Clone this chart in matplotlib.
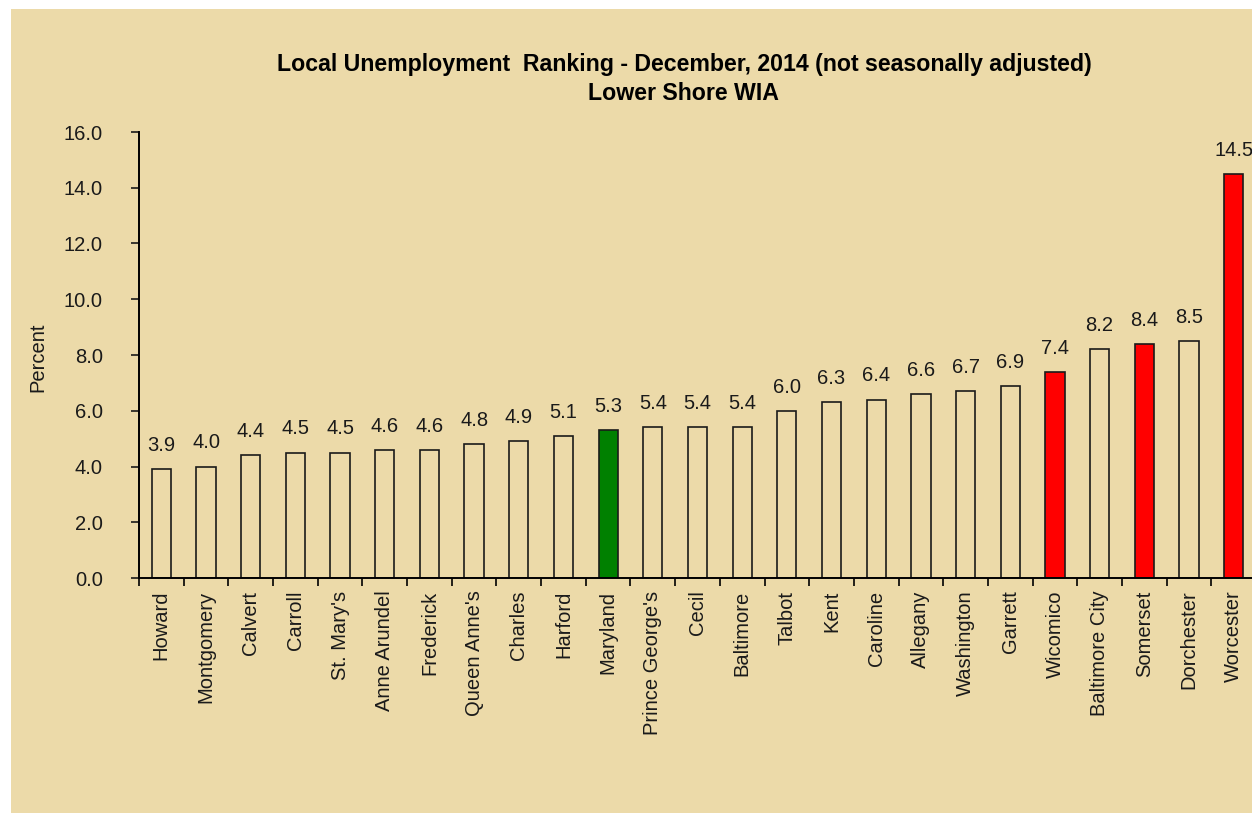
import matplotlib.pyplot as plt

counties = ['Howard', 'Montgomery', 'Calvert', 'Carroll', "St. Mary's",
            'Anne Arundel', 'Frederick', "Queen Anne's", 'Charles', 'Harford',
            'Maryland', "Prince George's", 'Cecil', 'Baltimore', 'Talbot',
            'Kent', 'Caroline', 'Allegany', 'Washington', 'Garrett',
            'Wicomico', 'Baltimore City', 'Somerset', 'Dorchester', 'Worcester']
rates = [3.9, 4.0, 4.4, 4.5, 4.5, 4.6, 4.6, 4.8, 4.9, 5.1,
         5.3, 5.4, 5.4, 5.4, 6.0, 6.3, 6.4, 6.6, 6.7, 6.9,
         7.4, 8.2, 8.4, 8.5, 14.5]
lower_shore = ['Wicomico', 'Somerset', 'Worcester']
state = 'Maryland'
yticks = [0, 2, 4, 6, 8, 10, 12, 14, 16]

plt.rcParams['font.family'] = ['Liberation Sans', 'DejaVu Sans']

fig = plt.figure(figsize=(12.52, 8.13), dpi=100)
fig.patch.set_facecolor('white')

# parchment-like background, white strip at top and left
bg = fig.add_axes([11 / 1252, 0, 1, 1 - 9 / 813], zorder=-1)
bg.set_facecolor('#ecdaa9')
bg.set_xticks([])
bg.set_yticks([])
for s in bg.spines.values():
    s.set_visible(False)

ax = fig.add_axes([139 / 1252, 1 - 578 / 813, 1117 / 1252, 446 / 813])
ax.set_facecolor('none')

colors = []
for c in counties:
    if c == state:
        colors.append('#008000')
    elif c in lower_shore:
        colors.append('#ff0000')
    else:
        colors.append('none')

x = list(range(len(counties)))
ax.bar(x, rates, width=0.43, color=colors, edgecolor='#1a1a1a', linewidth=1.2)

for xi, v in zip(x, rates):
    ax.annotate(f'{v:.1f}', (xi, v), xytext=(0, 17), textcoords='offset points',
                ha='center', va='center', fontsize=14.5, color='#1a1a1a')

ax.set_xlim(-0.5, len(counties) - 0.5)
ax.set_ylim(0, 16)
ax.set_yticks(yticks)
ax.set_yticklabels([f'{t:.1f}' for t in yticks])
ax.set_xticks(x)
ax.set_xticklabels(counties, rotation=90, fontsize=14.5)
ax.set_xticks([i - 0.5 for i in range(len(counties))], minor=True)
ax.tick_params(axis='x', which='major', length=0, pad=9)
ax.tick_params(axis='x', which='minor', length=6, width=1.2, direction='out')
ax.tick_params(axis='y', length=6, width=1.2, direction='out', labelsize=14.5, pad=20)
ax.tick_params(colors='#1a1a1a')

for s in ['top', 'right']:
    ax.spines[s].set_visible(False)
ax.spines['left'].set_linewidth(1.4)
ax.spines['bottom'].set_linewidth(1.4)

fig.text(38 / 1252, 1 - 357 / 813, 'Percent', rotation=90,
         ha='center', va='center', fontsize=14.5, color='#1a1a1a')

fig.text(684 / 1252, 1 - 65 / 813,
         'Local Unemployment  Ranking - December, 2014 (not seasonally adjusted)',
         ha='center', va='center', fontsize=16.7, fontweight='bold')
fig.text(684 / 1252, 1 - 93 / 813, 'Lower Shore WIA',
         ha='center', va='center', fontsize=16.7, fontweight='bold')

fig.savefig('out.png', dpi=100)
